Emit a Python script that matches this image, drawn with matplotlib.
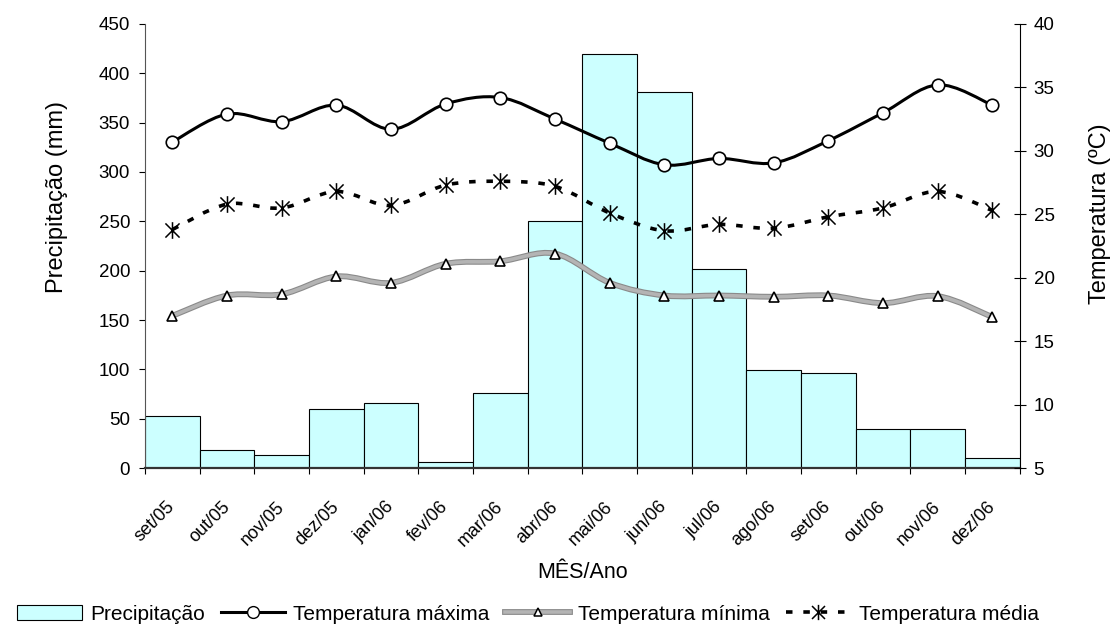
import matplotlib.pyplot as plt
import matplotlib.patheffects as pe
import matplotlib.transforms as mtrans
import numpy as np
from matplotlib.lines import Line2D
from matplotlib.patches import Patch, PathPatch
from matplotlib.path import Path

plt.rcParams['font.family'] = ['Liberation Sans', 'DejaVu Sans']

meses = ['set/05', 'out/05', 'nov/05', 'dez/05', 'jan/06', 'fev/06', 'mar/06', 'abr/06',
         'mai/06', 'jun/06', 'jul/06', 'ago/06', 'set/06', 'out/06', 'nov/06', 'dez/06']
precipitacao = [53, 18, 13, 60, 66, 6, 76, 250, 420, 381, 202, 99, 96, 40, 40, 10]
t_max = [30.7, 32.9, 32.3, 33.6, 31.7, 33.7, 34.2, 32.5, 30.6, 28.9, 29.4, 29.05, 30.8, 33.0, 35.2, 33.6]
t_min = [17.0, 18.6, 18.7, 20.1, 19.6, 21.1, 21.3, 21.9, 19.6, 18.6, 18.6, 18.5, 18.6, 18.0, 18.55, 16.9]
t_med = [23.8, 25.8, 25.5, 26.8, 25.7, 27.3, 27.6, 27.2, 25.1, 23.7, 24.2, 23.9, 24.8, 25.5, 26.8, 25.3]

x = np.arange(len(meses))


def curva_suave(xs, ys):
    # bezier com tangentes de Catmull-Rom (linha suavizada tipo Excel)
    p = np.column_stack([xs, ys]).astype(float)
    n = len(p)
    verts = [p[0]]
    codes = [Path.MOVETO]
    for i in range(n - 1):
        p0 = p[i - 1] if i > 0 else p[i]
        p3 = p[i + 2] if i + 2 < n else p[i + 1]
        c1 = p[i] + (p[i + 1] - p0) / 6
        c2 = p[i + 1] - (p3 - p[i]) / 6
        verts += [c1, c2, p[i + 1]]
        codes += [Path.CURVE4] * 3
    return Path(verts, codes)


estrela = Path([(0, -1), (0, 1), (-0.85, -0.85), (0.85, 0.85), (-0.85, 0.85), (0.85, -0.85)],
               [Path.MOVETO, Path.LINETO, Path.MOVETO, Path.LINETO, Path.MOVETO, Path.LINETO])
cinza = dict(color='#b4b4b4', path_effects=[pe.Stroke(linewidth=4.2, foreground='#8a8a8a'), pe.Normal()])
tracejado = (0, (1.8, 3.0))

fig = plt.figure(figsize=(11.12, 6.3), dpi=100)
ax = fig.add_axes([0.1305, 0.257, 0.7865, 0.705])
ax2 = ax.twinx()

ax.bar(x, precipitacao, width=1.0, color='#ccffff', edgecolor='black', linewidth=0.8)
ax.set_xlim(-0.5, 15.5)
ax.set_ylim(0, 450)
ax.set_yticks(range(0, 451, 50))
ax.set_xticks(np.arange(-0.5, 16, 1))
ax.set_xticklabels([])
ax.set_xticks(x, minor=True)
ax.set_xticklabels(meses, minor=True, rotation=45, ha='right', va='center',
                   rotation_mode='anchor', fontsize=13)
desloc = mtrans.ScaledTranslation(-10 / 100, 0, fig.dpi_scale_trans)
for lbl in ax.get_xticklabels(minor=True):
    lbl.set_transform(lbl.get_transform() + desloc)
ax.tick_params(axis='x', which='major', direction='out', length=4, width=0.8)
ax.tick_params(axis='x', which='minor', length=0, pad=26)
ax.tick_params(axis='y', direction='out', length=4.3, width=0.8, labelsize=13.5, pad=6.5)
ax.set_ylabel('Precipitação (mm)', fontsize=17)
ax.yaxis.set_label_coords(-0.088, 0.610)
ax.set_xlabel('MÊS/Ano', fontsize=15.5, va='top')
ax.xaxis.set_label_coords(0.5, -0.212)
for s in ['top', 'right']:
    ax.spines[s].set_visible(False)
ax.spines['left'].set_color('#555555')
ax.spines['bottom'].set_linewidth(1.6)
ax.spines['bottom'].set_color('#333333')

ax2.set_ylim(5, 40)
ax2.set_yticks(range(5, 41, 5))
ax2.tick_params(axis='y', direction='inout', length=9, width=0.8, labelsize=13.5, pad=5.5)
ax2.set_ylabel('Temperatura (ºC)', fontsize=17)
ax2.yaxis.set_label_coords(1.079, 0.572)
for s in ['top', 'left', 'bottom']:
    ax2.spines[s].set_visible(False)

# temperatura minima: linha cinza grossa
ax2.add_patch(PathPatch(curva_suave(x, t_min), fill=False, edgecolor=cinza['color'],
                        linewidth=2.6, path_effects=cinza['path_effects']))
ax2.plot(x, t_min, linestyle='none', marker='^', markersize=6.5, markerfacecolor='white',
         markeredgecolor='black', markeredgewidth=1.2)

# temperatura media: tracejada
ax2.add_patch(PathPatch(curva_suave(x, t_med), fill=False, edgecolor='black', linewidth=2.6,
                        linestyle=tracejado))
ax2.plot(x, t_med, linestyle='none', marker=estrela, markersize=12, color='black',
         markeredgewidth=1.1)

# temperatura maxima
ax2.add_patch(PathPatch(curva_suave(x, t_max), fill=False, edgecolor='black', linewidth=2.2))
ax2.plot(x, t_max, linestyle='none', marker='o', markersize=9, markerfacecolor='white',
         markeredgecolor='black', markeredgewidth=1.2)

# legenda
leg_min = (Line2D([], [], lw=2.6, **cinza),
           Line2D([], [], linestyle='none', marker='^', markersize=6, markerfacecolor='white',
                  markeredgecolor='black', markeredgewidth=1.1))
handles = [
    Patch(facecolor='#ccffff', edgecolor='black', linewidth=0.8),
    Line2D([], [], color='black', lw=2.2, marker='o', markersize=8.5, markerfacecolor='white',
           markeredgecolor='black'),
    leg_min,
    Line2D([], [], color='black', lw=2.6, linestyle=tracejado, marker=estrela,
           markersize=11, markeredgewidth=1.1),
]
rotulos = ['Precipitação', 'Temperatura máxima', 'Temperatura mínima', 'Temperatura média']
fig.legend(handles, rotulos, loc='center', bbox_to_anchor=(528 / 1112, 0.025), ncol=4,
           frameon=False, fontsize=15, handlelength=3.1, handletextpad=0.4,
           columnspacing=0.75, numpoints=1, borderpad=0.2)

fig.savefig('out.png', dpi=100)
